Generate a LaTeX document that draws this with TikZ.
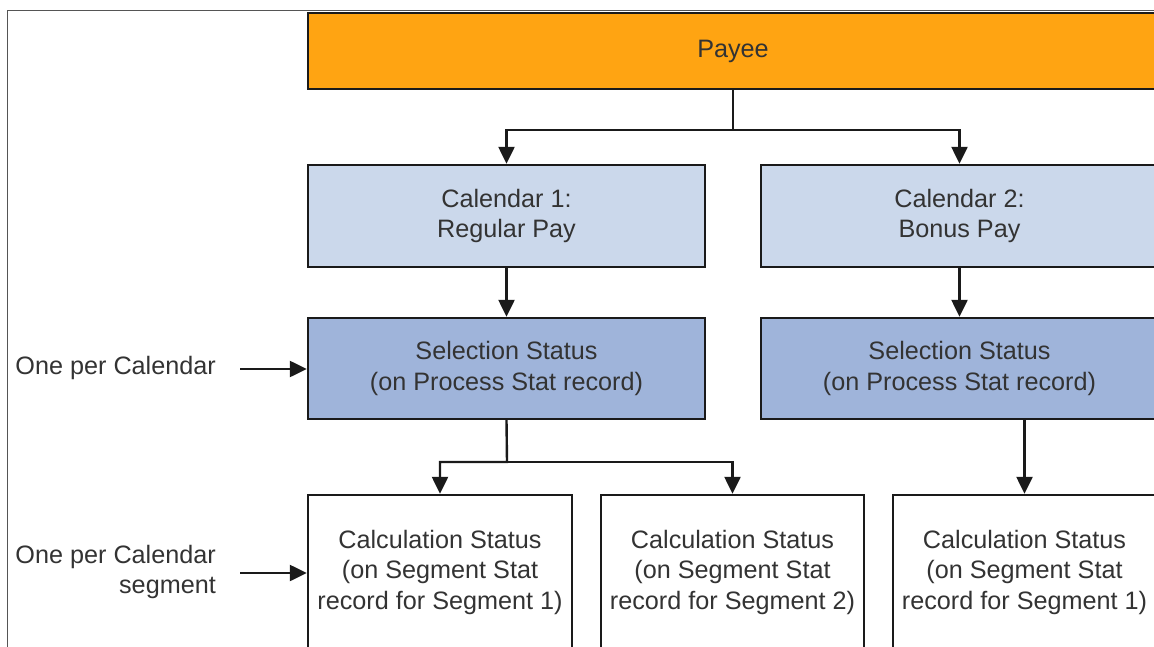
\documentclass[tikz,border=0pt]{standalone}
\usepackage{fontspec}
\setmainfont{Liberation Sans}
\usetikzlibrary{arrows.meta}
\definecolor{payeeor}{HTML}{FFA412}
\definecolor{callight}{HTML}{CBD8EB}
\definecolor{selblue}{HTML}{9FB4DA}
\definecolor{edgedark}{HTML}{1A1A1A}
\definecolor{txtgray}{HTML}{333333}
\definecolor{framegray}{HTML}{555555}
\tikzset{
  box/.style={draw=edgedark, line width=2.4pt, rectangle, inner sep=0pt, align=center,
    text=txtgray, font=\fontsize{25.2}{30.5}\selectfont},
  conn/.style={draw=edgedark, line width=2.4pt, -{Triangle[length=17pt,width=16pt]}},
  lbl/.style={text=txtgray, font=\fontsize{25.2}{30.5}\selectfont, inner sep=0pt}
}
\begin{document}
\begin{tikzpicture}[x=1pt,y=-1pt]
\useasboundingbox (0,0) rectangle (1154,647);
\clip (0,0) rectangle (1154,647);
\draw[framegray, line width=1pt] (7.5,660) -- (7.5,10.5) -- (1160,10.5);

\node[box, fill=payeeor, minimum width=850pt, minimum height=76pt] (payee) at (733,51) {Payee};
\node[box, fill=callight, minimum width=397pt, minimum height=102pt] (cal1) at (506.5,216) {Calendar 1:\\Regular Pay};
\node[box, fill=callight, minimum width=397pt, minimum height=102pt] (cal2) at (959.5,216) {Calendar 2:\\Bonus Pay};
\node[box, fill=selblue, minimum width=397pt, minimum height=101pt] (sel1) at (506.5,368.5) {Selection Status\\(on Process Stat record)};
\node[box, fill=selblue, minimum width=397pt, minimum height=101pt] (sel2) at (959.5,368.5) {Selection Status\\(on Process Stat record)};
\node[box, fill=white, minimum width=264pt, minimum height=154pt] (calc1) at (440,572) {Calculation Status\\(on Segment Stat\\record for Segment 1)};
\node[box, fill=white, minimum width=263pt, minimum height=154pt] (calc2) at (732.5,572) {Calculation Status\\(on Segment Stat\\record for Segment 2)};
\node[box, fill=white, minimum width=263pt, minimum height=154pt] (calc3) at (1024.5,572) {Calculation Status\\(on Segment Stat\\record for Segment 1)};

\node[lbl, anchor=east] (l1) at (216,368) {One per Calendar};
\node[lbl, anchor=east, align=right] (l2) at (216,572) {One per Calendar\\segment};
\coordinate (a1) at (240,369);
\coordinate (a2) at (240,573);

\coordinate (j1) at (733,130);
\coordinate (j2) at (507,462);

\draw[conn] (payee.south) -- (j1) -| (cal1.north);
\draw[conn] (j1) -| (cal2.north);
\draw[conn] (cal1.south) -- (sel1.north);
\draw[conn] (cal2.south) -- (sel2.north);
\draw[conn] (sel1.south) -- (j2) -| (calc1.north);
\draw[conn] (j2) -| (calc2.north);
\draw[conn] (sel2.south -| calc3.north) -- (calc3.north);
\draw[conn] (a1) -- (sel1.west |- a1);
\draw[conn] (a2) -- (calc1.west |- a2);
\end{tikzpicture}
\end{document}
